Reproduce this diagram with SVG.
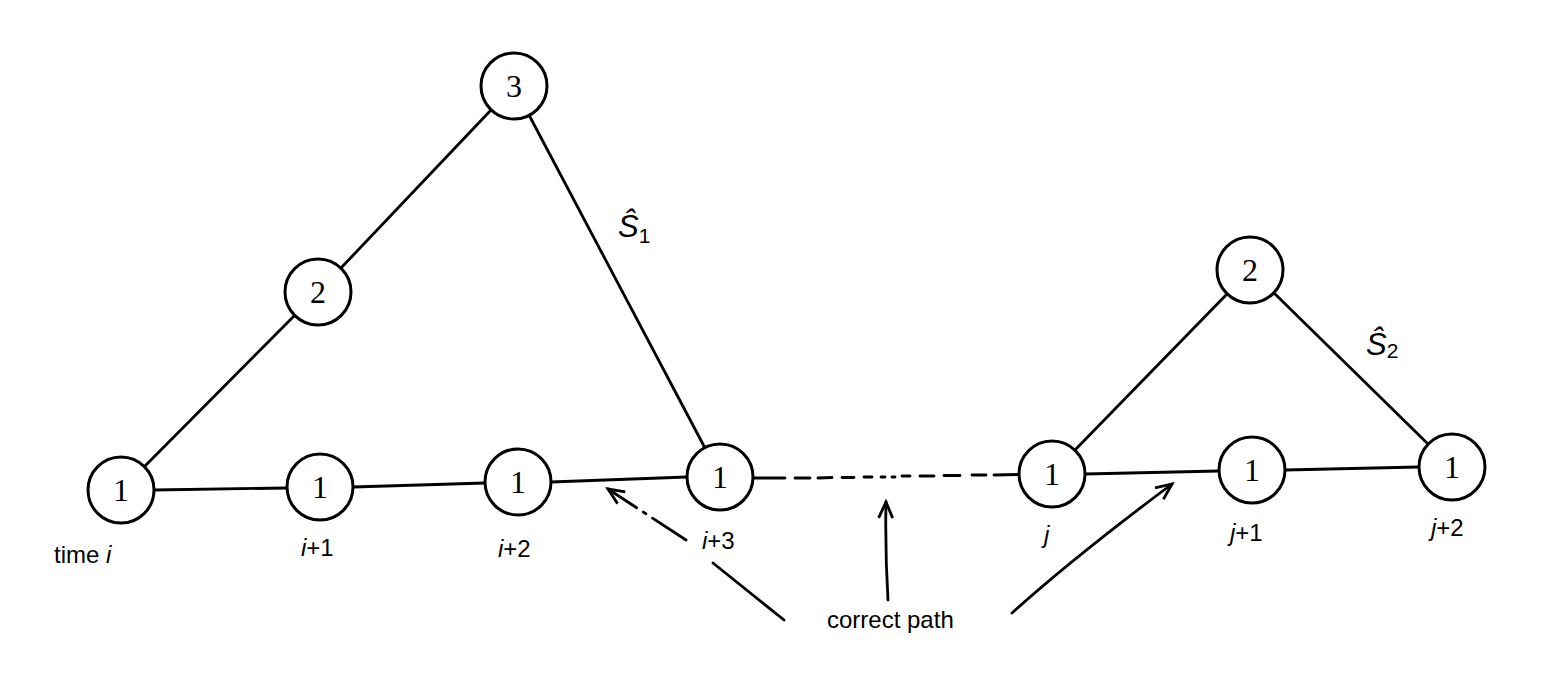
<svg xmlns="http://www.w3.org/2000/svg" width="1545" height="680" viewBox="0 0 1545 680">
<style>
.n circle{fill:#fff;stroke:#000;stroke-width:3}
.n text{font-family:"Liberation Serif",serif;font-size:32px;text-anchor:middle;fill:#000}
.e line,.e path{stroke:#000;stroke-width:2.8;fill:none;stroke-linecap:round}
.lbl{font-family:"Liberation Sans",Arial,sans-serif;font-size:24px;fill:#000}
.it{font-style:italic}
.sh{font-family:"Liberation Sans",Arial,sans-serif;font-size:31px;font-style:italic;fill:#000}
.sub{font-size:21px;font-style:normal}
</style>
<defs>
<marker id="v" markerWidth="22" markerHeight="18" refX="19" refY="8" orient="auto" markerUnits="userSpaceOnUse" viewBox="0 0 22 16">
<path d="M3,1 L19,8 L3,15" fill="none" stroke="#000" stroke-width="2.8"/>
</marker>
</defs>
<g id="connectors" class="e">
<line x1="144" y1="467" x2="295" y2="315"/>
<line x1="341" y1="268" x2="491" y2="110"/>
<line x1="529" y1="115" x2="705" y2="448"/>
<line x1="154" y1="490" x2="287" y2="488"/>
<line x1="353" y1="487" x2="485" y2="483"/>
<line x1="551" y1="482" x2="687" y2="477"/>
<path d="M753,478 L785,478 M795,478 L810,478 M818,478 L832,477.5 M842,477.5 L854,477.5 M864,477 L872,477 M881,477 L885,477 M892,477 L895,477 M902,476 L910,476 M920,476 L934,476 M944,475.5 L960,475.5 M972,475 L986,475 M994,475 L1019,474.5"/>
<line x1="1075" y1="450" x2="1227" y2="294"/>
<line x1="1274" y1="293" x2="1428" y2="444"/>
<line x1="1085" y1="474" x2="1219" y2="471"/>
<line x1="1285" y1="470" x2="1419" y2="467"/>
<line x1="686" y1="540" x2="608" y2="489" stroke-dasharray="40,8,3,8" marker-end="url(#v)"/>
<line x1="713" y1="563" x2="784" y2="620"/>
<path d="M888,600 Q885,550 886,502" marker-end="url(#v)"/>
<path d="M1012,613 Q1073,558 1172,484" marker-end="url(#v)"/>
</g>
<g id="n_t0" class="n"><circle cx="121" cy="490" r="33"/><text x="121" y="501">1</text></g>
<g id="n_t1" class="n"><circle cx="320" cy="487" r="33"/><text x="320" y="498">1</text></g>
<g id="n_t2" class="n"><circle cx="518" cy="482" r="33"/><text x="518" y="493">1</text></g>
<g id="n_t3" class="n"><circle cx="720" cy="477" r="33"/><text x="720" y="488">1</text></g>
<g id="n_2a" class="n"><circle cx="318" cy="292" r="33"/><text x="318" y="303">2</text></g>
<g id="n_3" class="n"><circle cx="514" cy="86" r="33"/><text x="514" y="97">3</text></g>
<g id="n_j0" class="n"><circle cx="1052" cy="474" r="33"/><text x="1052" y="485">1</text></g>
<g id="n_j1" class="n"><circle cx="1252" cy="470" r="33"/><text x="1252" y="481">1</text></g>
<g id="n_j2" class="n"><circle cx="1452" cy="467" r="33"/><text x="1452" y="478">1</text></g>
<g id="n_2b" class="n"><circle cx="1250" cy="270" r="33"/><text x="1250" y="281">2</text></g>
<g id="labels">
<text class="lbl" x="54" y="563">time <tspan class="it">i</tspan></text>
<text class="lbl" x="301" y="556"><tspan class="it">i</tspan>+1</text>
<text class="lbl" x="498" y="557"><tspan class="it">i</tspan>+2</text>
<text class="lbl" x="702" y="549"><tspan class="it">i</tspan>+3</text>
<text class="lbl it" x="1044" y="543">j</text>
<text class="lbl" x="1230" y="541"><tspan class="it">j</tspan>+1</text>
<text class="lbl" x="1431" y="536"><tspan class="it">j</tspan>+2</text>
<text class="lbl" x="827" y="628">correct path</text>
<text class="sh" x="618" y="237">Ŝ<tspan class="sub" dx="0" dy="6">1</tspan></text>
<text class="sh" x="1366" y="355">Ŝ<tspan class="sub" dx="0" dy="3">2</tspan></text>
</g>
</svg>
